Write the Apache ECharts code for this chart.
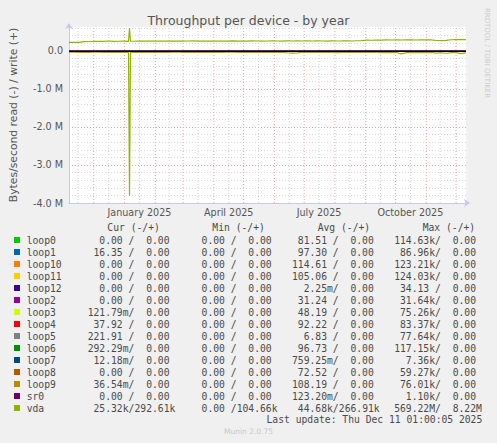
<!DOCTYPE html>
<html><head><meta charset="utf-8">
<script src="https://cdn.jsdelivr.net/npm/echarts@6/dist/echarts.min.js"></script>
<style>html,body{margin:0;padding:0;background:#f0f0f0;}#c{width:497px;height:443px;}</style>
</head><body><div id="c"></div>
<script>
// ---------- data ----------
const chartTitle = 'Throughput per device - by year';
const yAxisTitle = 'Bytes/second read (-) / write (+)';
const rangeStart = '2024-11-06T01:00:00Z';
const rangeEnd = '2025-12-11T01:00:00Z';
const xLabelDates = ['2025-01-16', '2025-04-16', '2025-07-16', '2025-10-16'];
const xLabelTexts = ['January 2025', 'April 2025', 'July 2025', 'October 2025'];
const monthStarts = ['2024-12-01','2025-01-01','2025-02-01','2025-03-01','2025-04-01','2025-05-01','2025-06-01','2025-07-01','2025-08-01','2025-09-01','2025-10-01','2025-11-01','2025-12-01'];
const midMonths = ['2024-11-15','2024-12-16','2025-01-16','2025-02-15','2025-03-16','2025-04-16','2025-05-16','2025-06-16','2025-07-16','2025-08-16','2025-09-16','2025-10-16','2025-11-15'];
const yMin = -4e6, yMax = 0.63e6;
const yTickValues = [-4, -3, -2, -1, 0]; // in M
const devices = ['loop0','loop1','loop10','loop11','loop12','loop2','loop3','loop4','loop5','loop6','loop7','loop8','loop9','sr0','vda'];
const deviceColors = ['#00CC00','#0066B3','#FF8000','#FFCC00','#330099','#990099','#CCFF00','#FF0000','#808080','#008F00','#00487D','#B35A00','#B38F00','#6B006B','#8FB300'];
const curRead  = ['0.00','16.35','0.00','0.00','0.00','0.00','121.79m','37.92','221.91','292.29m','12.18m','0.00','36.54m','0.00','25.32k'];
const curWrite = ['0.00','0.00','0.00','0.00','0.00','0.00','0.00','0.00','0.00','0.00','0.00','0.00','0.00','0.00','292.61k'];
const minRead  = ['0.00','0.00','0.00','0.00','0.00','0.00','0.00','0.00','0.00','0.00','0.00','0.00','0.00','0.00','0.00'];
const minWrite = ['0.00','0.00','0.00','0.00','0.00','0.00','0.00','0.00','0.00','0.00','0.00','0.00','0.00','0.00','104.66k'];
const avgRead  = ['81.51','97.30','114.61','105.06','2.25m','31.24','48.19','92.22','6.83','96.73','759.25m','72.52','108.19','123.20m','44.68k'];
const avgWrite = ['0.00','0.00','0.00','0.00','0.00','0.00','0.00','0.00','0.00','0.00','0.00','0.00','0.00','0.00','266.91k'];
const maxRead  = ['114.63k','86.96k','123.21k','124.03k','34.13','31.64k','75.26k','83.37k','77.64k','117.15k','7.36k','59.27k','76.01k','1.10k','569.22M'];
const maxWrite = ['0.00','0.00','0.00','0.00','0.00','0.00','0.00','0.00','0.00','0.00','0.00','0.00','0.00','0.00','8.22M'];
const columnHeaders = ['Cur (-/+)', 'Min (-/+)', 'Avg (-/+)', 'Max (-/+)'];
const lastUpdate = 'Last update: Thu Dec 11 01:00:05 2025';
const version = 'Munin 2.0.75';
const watermark = 'RRDTOOL / TOBI OETIKER';

// vda daily averages (kB/s)
const sampleDates = ['2024-11-06','2024-11-11','2024-11-16','2024-11-21','2024-11-26','2024-12-01','2024-12-06','2024-12-11','2024-12-16','2024-12-21','2024-12-26','2024-12-31',
 '2025-01-05','2025-01-06','2025-01-07','2025-01-10','2025-01-15','2025-01-20','2025-01-25','2025-01-30',
 '2025-02-04','2025-02-09','2025-02-14','2025-02-19','2025-02-24','2025-03-01','2025-03-06','2025-03-11','2025-03-16','2025-03-21','2025-03-26','2025-03-31',
 '2025-04-05','2025-04-10','2025-04-15','2025-04-20','2025-04-25','2025-04-30','2025-05-05','2025-05-10','2025-05-15','2025-05-20','2025-05-25','2025-05-30',
 '2025-06-04','2025-06-09','2025-06-14','2025-06-19','2025-06-24','2025-06-29','2025-07-04','2025-07-09','2025-07-14','2025-07-19','2025-07-24','2025-07-29',
 '2025-08-03','2025-08-08','2025-08-13','2025-08-18','2025-08-23','2025-08-28','2025-09-02','2025-09-07','2025-09-12','2025-09-17','2025-09-22','2025-09-27',
 '2025-10-02','2025-10-07','2025-10-12','2025-10-17','2025-10-22','2025-10-27','2025-11-01','2025-11-06','2025-11-11','2025-11-16','2025-11-21','2025-11-26',
 '2025-12-01','2025-12-06','2025-12-11'];
const vdaWriteK = [225,225,228, 245,248,250,255,250,262,250,255,258,
 252,600,255,
 255,258,260,256,262,258,260,262,258,260,258,262,265,258,260,262,260,258,262,260,263,260,
 262,260,263,262,258,262,264,262,260,263,262,265,262,
 263,262,265,262,260,265,262,263,265,262,268,270,
 285,282,288,285,290,288,290,288,
 290,292,288,292,295,290,
 275,272,280,
 295,298,300,298];
const vdaReadK = [30,32,35,30,38,33,30,36,32,40,33,35,
 35,3810,35,
 32,35,30,38,33,35,32,36,34,32,35,33,38,32,35,34,36,32,35,33,34,36,
 35,33,36,38,34,35,33,36,35,48,55,52,40,
 35,36,33,38,34,36,45,35,38,34,36,35,
 36,40,38,45,38,42,40,75,
 45,40,42,38,45,40,
 55,48,60,
 45,42,70,50];
// the loop devices and sr0 sit on the zero line at this scale
const idleDates = [rangeStart, rangeEnd];
const idleLevel = [0, 0];

// ---------- chart ----------
const ts = d => Date.parse(d.length === 10 ? d + 'T00:00:00Z' : d);
const labelTs = xLabelDates.map(ts);
const FONT = 'DejaVu Sans';
const MONO = 'DejaVu Sans Mono';
const axisColor = '#c4c8f4';

// vertical grid lines as broken line series spanning the y range
function vGrid(dates) {
  const out = [];
  dates.forEach(d => { out.push([ts(d), yMin], [ts(d), yMax], [ts(d), '-']); });
  return out;
}
const series = [];
series.push({ type: 'line', data: vGrid(midMonths), z: 1, silent: true, showSymbol: false, connectNulls: false,
  lineStyle: { color: '#d2d2d2', type: [1, 2], width: 1 } });
series.push({ type: 'line', data: vGrid(monthStarts), z: 1, silent: true, showSymbol: false, connectNulls: false,
  lineStyle: { color: '#eba3a3', type: [1, 2], width: 1 } });
devices.forEach((name, i) => {
  if (name === 'vda') return;
  const pts = idleDates.map((d, j) => [ts(d), idleLevel[j]]);
  series.push({ name: name + ' write', type: 'line', data: pts, z: 2, showSymbol: false, lineStyle: { color: deviceColors[i], width: 1 }, silent: true });
  series.push({ name: name + ' read', type: 'line', data: pts.map(p => [p[0], -p[1]]), z: 2, showSymbol: false, lineStyle: { color: deviceColors[i], width: 1 }, silent: true });
});
series.push({
  type: 'line', data: [], z: 3, silent: true,
  markLine: { silent: true, symbol: ['none', 'none'], label: { show: false }, animation: false,
    data: [{ yAxis: 0, lineStyle: { color: '#000', type: 'solid', width: 1 } }] }
});
const vdaColor = deviceColors[devices.indexOf('vda')];
series.push({ name: 'vda write', type: 'line', z: 4, showSymbol: false, silent: true,
  data: sampleDates.map((d, i) => [ts(d), vdaWriteK[i] * 1000]), lineStyle: { color: vdaColor, width: 1.2 } });
series.push({ name: 'vda read', type: 'line', z: 4, showSymbol: false, silent: true,
  data: sampleDates.map((d, i) => [ts(d), -vdaReadK[i] * 1000]), lineStyle: { color: vdaColor, width: 1.2 } });

// ---------- legend table (graphic text) ----------
const LG = { boxX: 14, box: 6, nameX: 26.7, row0: 240, rowH: 12, headerY: 227.7,
  headerX: [107.3, 212.3, 317.7, 422.7], readRight: [122.7, 224.9, 327, 429.2], cw: 5.85 };
const monoFont = '9.7px "' + MONO + '"';
const txtColor = '#4a4a4a';
const graphics = [];
function addText(x, y, text, align, opts) {
  graphics.push(Object.assign({ type: 'text', x: x, y: y, silent: true,
    style: { text: text, font: monoFont, fill: txtColor, textAlign: align || 'left', textVerticalAlign: 'middle' } }, opts || {}));
}
function split(v) { const m = v.match(/^([0-9.]+)([a-zA-Z]?)$/); return [m[1], m[2]]; }
columnHeaders.forEach((h, k) => addText(LG.headerX[k], LG.headerY, h, 'left'));
const cols = [[curRead, curWrite], [minRead, minWrite], [avgRead, avgWrite], [maxRead, maxWrite]];
devices.forEach((name, i) => {
  const y = LG.row0 + i * LG.rowH;
  graphics.push({ type: 'rect', silent: true, shape: { x: LG.boxX, y: y - LG.box / 2, width: LG.box, height: LG.box }, style: { fill: deviceColors[i] } });
  addText(LG.nameX, y, name, 'left');
  cols.forEach((c, k) => {
    const rr = LG.readRight[k];
    const wr = rr + 8 * LG.cw;
    const r = split(c[0][i]), w = split(c[1][i]);
    addText(rr, y, r[0], 'right');
    if (r[1]) addText(rr, y, r[1], 'left');
    addText(rr + LG.cw, y, '/', 'left');
    addText(wr, y, w[0], 'right');
    if (w[1]) addText(wr, y, w[1], 'left');
  });
});
addText(482.3, 419.3, lastUpdate, 'right');
graphics.push({ type: 'text', x: 248.5, y: 431.7, silent: true,
  style: { text: version, font: '7.5px "' + FONT + '"', fill: '#c8c8c8', textAlign: 'center', textVerticalAlign: 'middle' } });
graphics.push({ type: 'text', x: 486.5, y: 53, rotation: -Math.PI / 2, silent: true,
  style: { text: watermark, font: '7px "' + FONT + '"', fill: '#cccccc', textAlign: 'center', textVerticalAlign: 'middle' } });

const option = {
  backgroundColor: '#f0f0f0',
  animation: false,
  title: { text: chartTitle, left: 'center', top: 9,
    textStyle: { fontFamily: FONT, fontSize: 12.5, fontWeight: 'normal', color: '#555' } },
  grid: { left: 66, right: 31, top: 27, bottom: 240, show: true, backgroundColor: '#ffffff', borderWidth: 0 },
  xAxis: { type: 'value', min: ts(rangeStart), max: ts(rangeEnd), z: 5,
    axisLine: { show: true, onZero: false, lineStyle: { color: axisColor, width: 1 }, symbol: ['none', 'arrow'], symbolSize: [6, 6], symbolOffset: [0, 4] },
    axisTick: { show: false }, splitLine: { show: false },
    axisLabel: { customValues: labelTs, formatter: v => xLabelTexts[labelTs.indexOf(v)] || '', color: '#555', fontFamily: FONT, fontSize: 9.6, margin: 4, hideOverlap: false } },
  yAxis: [
    { type: 'value', min: yMin, max: yMax, interval: 1e6, z: 1,
      name: yAxisTitle, nameLocation: 'middle', nameGap: 50,
      nameTextStyle: { fontFamily: FONT, fontSize: 10.8, color: '#555' },
      axisLine: { show: true, onZero: false, lineStyle: { color: axisColor, width: 1 }, symbol: ['none', 'arrow'], symbolSize: [6, 6], symbolOffset: [0, 4] },
      axisTick: { show: false },
      axisLabel: { showMaxLabel: false, color: '#555', fontFamily: FONT, fontSize: 9.6, margin: 6,
        formatter: v => { const m = v / 1e6; if (yTickValues.indexOf(Math.round(m * 100) / 100) < 0) return ''; return m === 0 ? '0.0' : m.toFixed(1) + ' M'; } },
      splitLine: { show: true, showMaxLine: false, lineStyle: { color: '#eba3a3', type: [1, 2], width: 1 } } },
    { type: 'value', min: yMin, max: yMax, interval: 0.2e6, z: 0, position: 'left',
      axisLine: { show: false }, axisTick: { show: false }, axisLabel: { show: false },
      splitLine: { show: true, showMaxLine: false, lineStyle: { color: '#d8d8d8', type: [1, 2], width: 1 } } }
  ],
  series: series,
  graphic: graphics
};
const chart = echarts.init(document.getElementById('c'), null, { renderer: 'svg' });
chart.setOption(option);
</script></body></html>
